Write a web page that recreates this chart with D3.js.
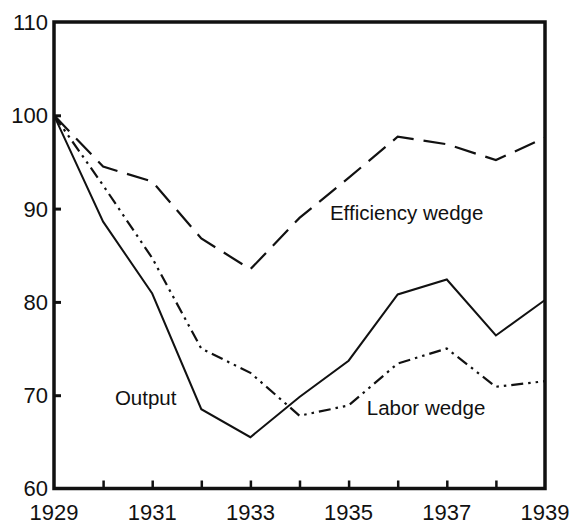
<!DOCTYPE html>
<html lang="en">
<head>
    <meta charset="UTF-8">
    <title>Output and wedges, 1929-1939</title>
    <script src="https://cdn.jsdelivr.net/npm/d3@7"></script>
    <style>
        body { margin: 0; background: #fff; }
        text { font-family: "Liberation Sans", Arial, Helvetica, sans-serif; fill: #111; }
    </style>
</head>
<body>
<div id="chart"></div>
<script>
    // data (index, 1929 = 100)
    var years = [1929, 1930, 1931, 1932, 1933, 1934, 1935, 1936, 1937, 1938, 1939];
    var output = [100, 88.6, 80.9, 68.5, 65.5, 69.8, 73.7, 80.8, 82.4, 76.4, 80.2];
    var efficiency = [100, 94.5, 92.9, 86.8, 83.5, 89.0, 93.3, 97.7, 96.9, 95.2, 97.6];
    var labor = [100, 92.5, 84.7, 75.0, 72.4, 67.8, 68.9, 73.4, 75.0, 70.9, 71.5];
    var yTicks = [60, 70, 80, 90, 100, 110];
    var xLabels = [1929, 1931, 1933, 1935, 1937, 1939];
    var seriesNames = ["Output", "Efficiency wedge", "Labor wedge"];

    var width = 573, height = 525;
    var margin = {top: 22, right: 28, bottom: 36.5, left: 54};

    var svg = d3.select("#chart")
        .append("svg")
        .attr("width", width)
        .attr("height", height);

    var x = d3.scaleLinear()
        .domain([1929, 1939])
        .range([margin.left, width - margin.right]);

    var y = d3.scaleLinear()
        .domain([60, 110])
        .range([height - margin.bottom, margin.top]);

    // lines
    var line = d3.line()
        .x(function(d, i) { return x(years[i]); })
        .y(function(d) { return y(d); });

    var g = svg.append("g");

    g.append("path")
        .datum(output)
        .attr("d", line)
        .attr("fill", "none")
        .attr("stroke", "#111")
        .attr("stroke-width", 2);

    g.append("path")
        .datum(efficiency)
        .attr("d", line)
        .attr("fill", "none")
        .attr("stroke", "#111")
        .attr("stroke-width", 2.2)
        .attr("stroke-dasharray", "22,10");

    g.append("path")
        .datum(labor)
        .attr("d", line)
        .attr("fill", "none")
        .attr("stroke", "#111")
        .attr("stroke-width", 2.2)
        .attr("stroke-dasharray", "12,5,2.5,5,2.5,5");

    // axes: ticks pointing inward
    var xAxis = d3.axisBottom(x)
        .tickValues(d3.range(1930, 1939))
        .tickSizeInner(-8)
        .tickSizeOuter(0)
        .tickFormat("");
    svg.append("g")
        .attr("transform", "translate(0," + y(60) + ")")
        .call(xAxis)
        .call(function(s) { s.select(".domain").remove(); })
        .selectAll("line")
        .attr("stroke", "#111")
        .attr("stroke-width", 2.5);

    var yAxis = d3.axisLeft(y)
        .tickValues([70, 80, 90, 100])
        .tickSizeInner(-7)
        .tickSizeOuter(0)
        .tickFormat("");
    svg.append("g")
        .attr("transform", "translate(" + x(1929) + ",0)")
        .call(yAxis)
        .call(function(s) { s.select(".domain").remove(); })
        .selectAll("line")
        .attr("stroke", "#111")
        .attr("stroke-width", 3);

    // frame
    svg.append("rect")
        .attr("x", x(1929))
        .attr("y", y(110))
        .attr("width", x(1939) - x(1929))
        .attr("height", y(60) - y(110))
        .attr("fill", "none")
        .attr("stroke", "#111")
        .attr("stroke-width", 3.5);

    // tick labels
    svg.append("g")
        .selectAll("text")
        .data(yTicks)
        .enter()
        .append("text")
        .attr("x", x(1929) - 6)
        .attr("y", function(d) { return y(d); })
        .attr("dy", "0.36em")
        .attr("text-anchor", "end")
        .style("font-size", "22px")
        .text(function(d) { return d; });

    svg.append("g")
        .selectAll("text")
        .data(xLabels)
        .enter()
        .append("text")
        .attr("x", function(d) { return x(d); })
        .attr("y", y(60) + 31)
        .attr("text-anchor", "middle")
        .style("font-size", "22px")
        .text(function(d) { return d; });

    // series labels
    var labelPos = [
        {yr: 1930.24, v: 68.9},
        {yr: 1934.62, v: 88.8},
        {yr: 1935.37, v: 67.9}
    ];
    svg.append("g")
        .selectAll("text")
        .data(seriesNames)
        .enter()
        .append("text")
        .attr("x", function(d, i) { return x(labelPos[i].yr); })
        .attr("y", function(d, i) { return y(labelPos[i].v); })
        .style("font-size", "20.5px")
        .text(function(d) { return d; });
</script>
</body>
</html>
